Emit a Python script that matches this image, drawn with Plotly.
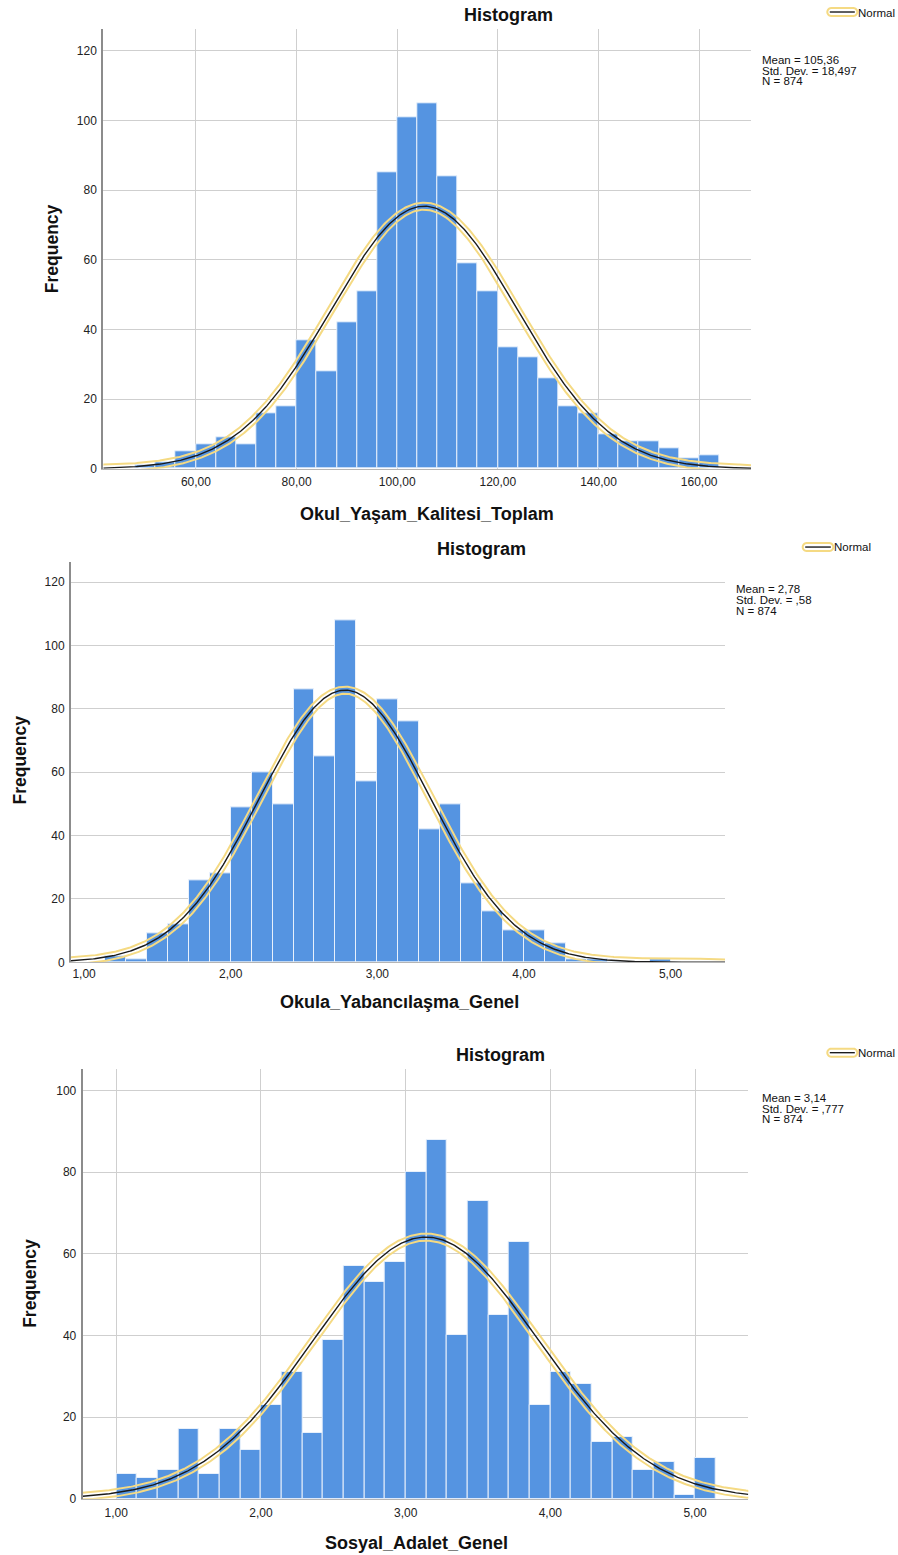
import numpy as np
import plotly.graph_objects as go

W, H = 898, 1555
H_FIG = 1563  # rendered page height; the capture is resized to 898x1555

# ---------------- DATA ----------------
okul_counts = [1, 2, 5, 7, 9, 7, 16, 18, 37, 28, 42, 51, 85, 101, 105, 84, 59, 51,
               35, 32, 26, 18, 16, 10, 8, 8, 6, 3, 4]
okul_bin_start = 48.0
okul_bin_width = 4.0
okul_mean, okul_sd, okul_n = 105.36, 18.497, 874
okul_xticks = [60, 80, 100, 120, 140, 160]
okul_xticktext = ["60,00", "80,00", "100,00", "120,00", "140,00", "160,00"]
okul_yticks = [0, 20, 40, 60, 80, 100, 120]
okul_stats = ["Mean = 105,36", "Std. Dev. = 18,497", "N = 874"]
okul_title = "Okul_Yaşam_Kalitesi_Toplam"

yab_counts = [2, 1, 9, 12, 26, 28, 49, 60, 50, 86, 65, 108, 57, 83, 76, 42, 50, 25,
              16, 10, 10, 6, 1, 1, 0, 0, 1]
yab_bin_start = 1 + 1 / 7
yab_bin_width = 1 / 7
yab_mean, yab_sd, yab_n = 2.78, 0.58, 874
yab_xticks = [1, 2, 3, 4, 5]
yab_xticktext = ["1,00", "2,00", "3,00", "4,00", "5,00"]
yab_yticks = [0, 20, 40, 60, 80, 100, 120]
yab_stats = ["Mean = 2,78", "Std. Dev. = ,58", "N = 874"]
yab_title = "Okula_Yabancılaşma_Genel"

sos_counts = [6, 5, 7, 17, 6, 17, 12, 23, 31, 16, 39, 57, 53, 58, 80, 88, 40, 73, 45,
              63, 23, 31, 28, 14, 15, 7, 9, 1, 10]
sos_bin_start = 1.0
sos_bin_width = 1 / 7
sos_mean, sos_sd, sos_n = 3.14, 0.777, 874
sos_xticks = [1, 2, 3, 4, 5]
sos_xticktext = ["1,00", "2,00", "3,00", "4,00", "5,00"]
sos_yticks = [0, 20, 40, 60, 80, 100]
sos_stats = ["Mean = 3,14", "Std. Dev. = ,777", "N = 874"]
sos_title = "Sosyal_Adalet_Genel"

# ---------------- STYLE / GEOMETRY (pixels) ----------------
FONT = "Arial, Liberation Sans, sans-serif"
BAR_COLOR = "#5594E1"
YELLOW = "#F5DA83"
BLACK = "#1b1b1b"
GRID = "#cfcfcf"

panels = [
    dict(counts=okul_counts, start=okul_bin_start, w=okul_bin_width, mean=okul_mean,
         sd=okul_sd, n=okul_n, xt=okul_xticks, xtt=okul_xticktext, yt=okul_yticks,
         stats=okul_stats, xtitle=okul_title,
         xpx=(103.3, 751.0), ypx=(29.3, 468.5), xr=(41.6, 170.3), yr=(0, 126.2),
         vgrid=True, htitle=(508, 15), xtitle_pos=(427, 514), ytitle_pos=(52, 249),
         stats_pos=(760, [59.5, 70.5, 81]), legend=(827.3, 857.3, 12, 13), xtl=2),
    dict(counts=yab_counts, start=yab_bin_start, w=yab_bin_width, mean=yab_mean,
         sd=yab_sd, n=yab_n, xt=yab_xticks, xtt=yab_xticktext, yt=yab_yticks,
         stats=yab_stats, xtitle=yab_title,
         xpx=(71.0, 725.0), ypx=(562.0, 961.7), xr=(0.911, 5.371), yr=(0, 126.2),
         vgrid=False, htitle=(481, 549), xtitle_pos=(399, 1001), ytitle_pos=(20, 760),
         stats_pos=(734, [589, 600, 610.5]), legend=(802.7, 833.3, 546.7, 546.7), xtl=0),
    dict(counts=sos_counts, start=sos_bin_start, w=sos_bin_width, mean=sos_mean,
         sd=sos_sd, n=sos_n, xt=sos_xticks, xtt=sos_xticktext, yt=sos_yticks,
         stats=sos_stats, xtitle=sos_title,
         xpx=(82.7, 748.3), ypx=(1068.3, 1497.7), xr=(0.768, 5.368), yr=(0, 105.3),
         vgrid=True, htitle=(500, 1054), xtitle_pos=(416, 1542), ytitle_pos=(30, 1283),
         stats_pos=(760, [1097, 1108, 1118.5]), legend=(827.3, 857.3, 1052, 1052.5), xtl=3),
]


def px(xp):
    return xp / W


def py(yp):
    return 1 - yp / H


fig = go.Figure()
annotations = []
shapes = []
layout_axes = {}

for i, p in enumerate(panels, start=1):
    xa = "x" if i == 1 else f"x{i}"
    ya = "y" if i == 1 else f"y{i}"
    xkey = "xaxis" if i == 1 else f"xaxis{i}"
    ykey = "yaxis" if i == 1 else f"yaxis{i}"

    counts = np.array(p["counts"], dtype=float)
    centers = p["start"] + p["w"] * (np.arange(len(counts)) + 0.5)

    fig.add_trace(go.Bar(
        x=centers, y=counts, width=p["w"], xaxis=xa, yaxis=ya,
        marker=dict(color=BAR_COLOR, line=dict(color="rgba(235,242,252,0.95)", width=1)),
        showlegend=False, hoverinfo="x+y"))

    # normal curve
    x0, x1 = p["xr"]
    y0, y1 = p["yr"]
    sx = (p["xpx"][1] - p["xpx"][0]) / (x1 - x0)
    sy = (p["ypx"][1] - p["ypx"][0]) / (y1 - y0)
    xs = np.linspace(x0, x1, 500)
    peak = p["n"] * p["w"] / (p["sd"] * np.sqrt(2 * np.pi))
    ys = peak * np.exp(-0.5 * ((xs - p["mean"]) / p["sd"]) ** 2)

    # outline loop (offset curves in pixel space)
    X = (xs - x0) * sx
    Y = ys * sy
    dX = np.gradient(X)
    dY = np.gradient(Y)
    L = np.hypot(dX, dY)
    tx, ty = dX / L, dY / L
    nx, ny = -ty, tx
    d = 3.5
    upX, upY = X + nx * d, Y + ny * d
    loX, loY = X - nx * d, Y - ny * d
    a_end = np.arctan2(ty[-1], tx[-1])
    th = a_end + np.pi / 2 - np.linspace(0, np.pi, 20)
    ecX, ecY = X[-1] + d * np.cos(th), Y[-1] + d * np.sin(th)
    a_st = np.arctan2(ty[0], tx[0])
    th2 = a_st - np.pi / 2 - np.linspace(0, np.pi, 20)
    scX, scY = X[0] + d * np.cos(th2), Y[0] + d * np.sin(th2)
    loopX = np.concatenate([upX, ecX, loX[::-1], scX, upX[:1]])
    loopY = np.concatenate([upY, ecY, loY[::-1], scY, upY[:1]])
    fig.add_trace(go.Scatter(
        x=x0 + loopX / sx, y=loopY / sy, mode="lines", xaxis=xa, yaxis=ya,
        line=dict(color=YELLOW, width=2.0), showlegend=False, hoverinfo="skip"))
    fig.add_trace(go.Scatter(
        x=xs, y=ys, mode="lines", xaxis=xa, yaxis=ya,
        line=dict(color=BLACK, width=1.4), showlegend=False, hoverinfo="skip"))

    layout_axes[xkey] = dict(
        domain=[px(p["xpx"][0]), px(p["xpx"][1])], range=list(p["xr"]), anchor=ya,
        tickvals=p["xt"], ticktext=p["xtt"], showgrid=p["vgrid"], gridcolor=GRID,
        gridwidth=1.2, zeroline=False, showline=True, linecolor="#b5b5b5", linewidth=1,
        ticks="outside", ticklen=p["xtl"], tickcolor="rgba(0,0,0,0)",
        tickfont=dict(family=FONT, size=12, color="#222"))
    layout_axes[ykey] = dict(
        domain=[py(p["ypx"][1]), py(p["ypx"][0])], range=list(p["yr"]), anchor=xa,
        tickvals=p["yt"], showgrid=True, gridcolor=GRID, gridwidth=1.2,
        zeroline=False, showline=True, linecolor="#8c8c8c", linewidth=2,
        ticks="outside", ticklen=2, tickcolor="rgba(0,0,0,0)",
        tickfont=dict(family=FONT, size=12, color="#222"))

    # titles
    annotations.append(dict(text="<b>Histogram</b>", x=px(p["htitle"][0]), y=py(p["htitle"][1]),
                            xref="paper", yref="paper", xanchor="center", yanchor="middle",
                            showarrow=False, font=dict(family=FONT, size=18, color="#111")))
    annotations.append(dict(text=f"<b>{p['xtitle']}</b>", x=px(p["xtitle_pos"][0]),
                            y=py(p["xtitle_pos"][1]), xref="paper", yref="paper",
                            xanchor="center", yanchor="middle", showarrow=False,
                            font=dict(family=FONT, size=18, color="#111")))
    annotations.append(dict(text="<b>Frequency</b>", x=px(p["ytitle_pos"][0]),
                            y=py(p["ytitle_pos"][1]), xref="paper", yref="paper",
                            xanchor="center", yanchor="middle", textangle=-90,
                            showarrow=False, font=dict(family=FONT, size=17.5, color="#111")))
    sxp, syl = p["stats_pos"]
    for txt, yy in zip(p["stats"], syl):
        annotations.append(dict(text=txt, x=px(sxp), y=py(yy), xref="paper", yref="paper",
                                xanchor="left", yanchor="middle", showarrow=False,
                                font=dict(family=FONT, size=11.5, color="#111")))

    # legend capsule
    lx0, lx1, lcy, lty = p["legend"]
    r = 4.0
    angs1 = np.linspace(np.pi / 2, 3 * np.pi / 2, 12)
    angs2 = np.linspace(-np.pi / 2, np.pi / 2, 12)
    cx = list(lx0 + r + r * np.cos(angs1)) + list(lx1 - r + r * np.cos(angs2))
    cy = list(lcy - r * np.sin(angs1)) + list(lcy - r * np.sin(angs2))
    path = "M " + " L ".join(f"{px(a):.5f},{py(b):.5f}" for a, b in zip(cx, cy)) + " Z"
    shapes.append(dict(type="path", path=path, xref="paper", yref="paper",
                       line=dict(color=YELLOW, width=2.0), fillcolor="white"))
    shapes.append(dict(type="line", x0=px(lx0 + 2.5), x1=px(lx1 - 2.5), y0=py(lcy), y1=py(lcy),
                       xref="paper", yref="paper", line=dict(color=BLACK, width=1.4)))
    annotations.append(dict(text="Normal", x=px(lx1 - 1), y=py(lty), xref="paper", yref="paper",
                            xanchor="left", yanchor="middle", showarrow=False,
                            font=dict(family=FONT, size=11.5, color="#111")))

fig.update_layout(
    width=W, height=H_FIG, autosize=False,
    margin=dict(l=0, r=0, t=0, b=0),
    paper_bgcolor="white", plot_bgcolor="white",
    bargap=0, showlegend=False,
    annotations=annotations, shapes=shapes,
    **layout_axes)

POST = (
    "document.documentElement.style.margin='0px';"
    "document.documentElement.style.padding='0px';"
    "document.body.style.margin='0px';"
    "document.body.style.padding='0px';"
    "var gd=document.getElementById('{plot_id}');"
    "gd.style.overflow='hidden';gd.style.lineHeight='0px';gd.style.fontSize='0px';"
)

fig.write_html("out.html", config={"displayModeBar": False}, post_script=POST)
